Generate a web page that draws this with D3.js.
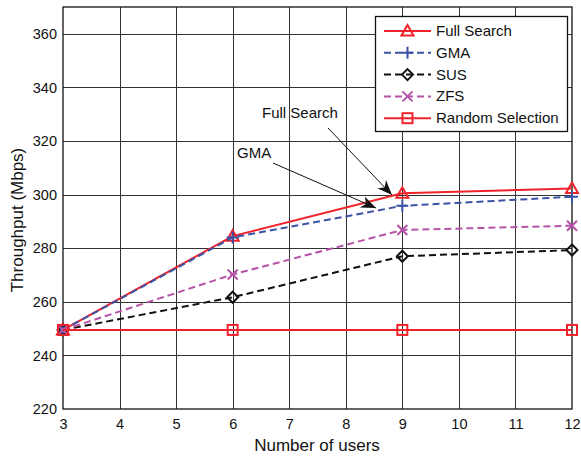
<!DOCTYPE html>
<html>
<head>
<meta charset="utf-8">
<script src="https://cdn.jsdelivr.net/npm/d3@7"></script>
<style>
  body { margin: 0; background: #fff; }
  text { font-family: "Liberation Sans", Arial, sans-serif; fill: #111; }
</style>
</head>
<body>
<div id="chart"></div>
<script>
// data
const users = [3, 6, 9, 12];
const fullSearch = [249.5, 284.5, 300.5, 302.3];
const gma = [249.5, 284, 295.8, 299.2];
const sus = [249.5, 261.7, 277, 279.3];
const zfs = [249.5, 270.2, 286.8, 288.4];
const randomSel = [249.5, 249.5, 249.5, 249.5];
const xTicks = [3, 4, 5, 6, 7, 8, 9, 10, 11, 12];
const yTicks = [220, 240, 260, 280, 300, 320, 340, 360];

const WIDTH = 581, HEIGHT = 457;
const M = {left: 63, right: 9, top: 7, bottom: 48};

const series = [
  {name: "Full Search", vals: fullSearch, color: "#f0232b", dash: null, marker: "tri"},
  {name: "GMA", vals: gma, color: "#3c53a5", dash: "7,4", marker: "plus"},
  {name: "SUS", vals: sus, color: "#111", dash: "7,4", marker: "diamond"},
  {name: "ZFS", vals: zfs, color: "#b653a8", dash: "7,4", marker: "x"},
  {name: "Random Selection", vals: randomSel, color: "#f0232b", dash: null, marker: "square"}
];

const svg = d3.select("#chart").append("svg")
  .attr("width", WIDTH).attr("height", HEIGHT);

const x = d3.scaleLinear().domain([3, 12]).range([M.left, WIDTH - M.right]);
const y = d3.scaleLinear().domain([220, 370]).range([HEIGHT - M.bottom, M.top]);

// grid
svg.append("g").selectAll("line").data(xTicks.slice(1, -1)).enter().append("line")
  .attr("x1", d => Math.round(x(d)) + 0.5).attr("x2", d => Math.round(x(d)) + 0.5)
  .attr("y1", M.top).attr("y2", HEIGHT - M.bottom)
  .attr("stroke", "#333").attr("stroke-width", 1);
svg.append("g").selectAll("line").data(yTicks.slice(1)).enter().append("line")
  .attr("y1", d => Math.round(y(d)) + 0.5).attr("y2", d => Math.round(y(d)) + 0.5)
  .attr("x1", M.left).attr("x2", WIDTH - M.right)
  .attr("stroke", "#333").attr("stroke-width", 1);

// axes
const xAxis = svg.append("g").attr("transform", `translate(0,${HEIGHT - M.bottom})`)
  .call(d3.axisBottom(x).tickValues(xTicks).tickSize(0).tickPadding(10).tickFormat(d3.format("d")));
const yAxis = svg.append("g").attr("transform", `translate(${M.left},0)`)
  .call(d3.axisLeft(y).tickValues(yTicks).tickSize(0).tickPadding(6));
[xAxis, yAxis].forEach(a => {
  a.select(".domain").remove();
  a.selectAll("text").attr("font-size", "14.5px")
    .attr("font-family", "'Liberation Sans', Arial, sans-serif").attr("fill", "#111");
});

// frame
svg.append("rect")
  .attr("x", M.left).attr("y", M.top)
  .attr("width", WIDTH - M.left - M.right).attr("height", HEIGHT - M.top - M.bottom)
  .attr("fill", "none").attr("stroke", "#111").attr("stroke-width", 1.3);

// marker drawing
function drawMarker(g, type, color, cx, cy) {
  if (type == "tri") {
    g.append("path").attr("d", `M${cx},${cy - 6}L${cx + 6},${cy + 4.5}L${cx - 6},${cy + 4.5}Z`)
      .attr("fill", "none").attr("stroke", color).attr("stroke-width", 2);
  } else if (type == "plus") {
    g.append("path").attr("d", `M${cx - 6},${cy}H${cx + 6}M${cx},${cy - 6}V${cy + 6}`)
      .attr("stroke", color).attr("stroke-width", 2);
  } else if (type == "diamond") {
    g.append("path").attr("d", `M${cx},${cy - 5.5}L${cx + 5.5},${cy}L${cx},${cy + 5.5}L${cx - 5.5},${cy}Z`)
      .attr("fill", "none").attr("stroke", color).attr("stroke-width", 2);
  } else if (type == "x") {
    g.append("path").attr("d", `M${cx - 5},${cy - 5}L${cx + 5},${cy + 5}M${cx - 5},${cy + 5}L${cx + 5},${cy - 5}`)
      .attr("stroke", color).attr("stroke-width", 2);
  } else if (type == "square") {
    g.append("rect").attr("x", cx - 5).attr("y", cy - 5).attr("width", 10).attr("height", 10)
      .attr("fill", "none").attr("stroke", color).attr("stroke-width", 2);
  }
}

const line = d3.line().x((d, i) => x(users[i])).y(d => y(d));

series.forEach(s => {
  const g = svg.append("g");
  g.append("path").attr("d", line(s.vals))
    .attr("fill", "none").attr("stroke", s.color).attr("stroke-width", 2)
    .attr("stroke-dasharray", s.dash);
  s.vals.forEach((v, i) => drawMarker(g, s.marker, s.color, x(users[i]), y(v)));
});

// annotations
const defs = svg.append("defs");
defs.append("marker").attr("id", "arr").attr("viewBox", "0 0 10 10")
  .attr("refX", 10).attr("refY", 5).attr("markerWidth", 15).attr("markerHeight", 15)
  .attr("markerUnits", "userSpaceOnUse").attr("orient", "auto")
  .append("path").attr("d", "M0,1L10,5L0,9L3,5Z").attr("fill", "#111");

const notes = [
  {label: "Full Search", tx: 262, ty: 118, x1: 328, y1: 128, x2: 392, y2: 195},
  {label: "GMA", tx: 237, ty: 158, x1: 273, y1: 163, x2: 376, y2: 208}
];
notes.forEach(n => {
  svg.append("text").attr("x", n.tx).attr("y", n.ty).attr("font-size", "15px").text(n.label);
  svg.append("line").attr("x1", n.x1).attr("y1", n.y1).attr("x2", n.x2).attr("y2", n.y2)
    .attr("stroke", "#111").attr("stroke-width", 1).attr("marker-end", "url(#arr)");
});

// legend
const leg = svg.append("g");
leg.append("rect").attr("x", 375.5).attr("y", 16.5).attr("width", 192).attr("height", 115)
  .attr("fill", "#fff").attr("stroke", "#111").attr("stroke-width", 1.3);
series.forEach((s, i) => {
  const ly = 31 + i * 21.8;
  leg.append("line").attr("x1", 384).attr("x2", 431).attr("y1", ly).attr("y2", ly)
    .attr("stroke", s.color).attr("stroke-width", 2).attr("stroke-dasharray", s.dash);
  drawMarker(leg, s.marker, s.color, 407.5, ly);
  leg.append("text").attr("x", 436).attr("y", ly + 5).attr("font-size", "15px").text(s.name);
});

// axis titles
svg.append("text").attr("x", 317).attr("y", 451).attr("text-anchor", "middle")
  .attr("font-size", "17px").text("Number of users");
svg.append("text").attr("transform", "translate(23,220) rotate(-90)").attr("text-anchor", "middle")
  .attr("font-size", "17px").text("Throughput (Mbps)");
</script>
</body>
</html>
